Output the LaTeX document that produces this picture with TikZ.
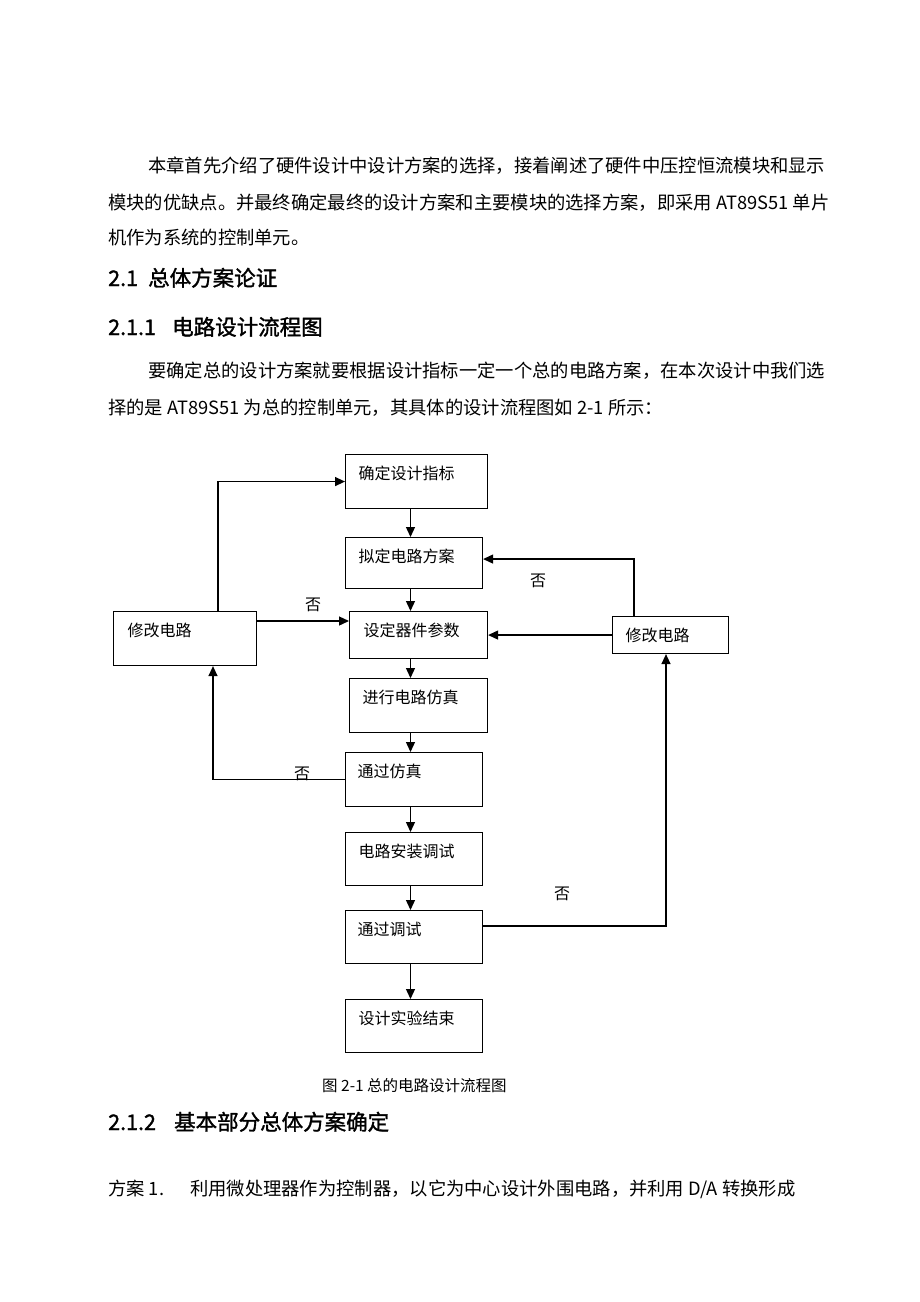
\documentclass[tikz,border=0pt]{standalone}
\usepackage{fontspec}
\setmainfont{Noto Sans CJK SC}
\newfontfamily\hei[FakeBold=1.5]{Noto Sans CJK SC}
\usetikzlibrary{arrows.meta}
\newcommand\flowbox[7]{%
  \pgfmathsetmacro\fbw{#4-#2}\pgfmathsetmacro\fbh{#5-#3}\pgfmathsetmacro\fbs{#6-#2}%
  \pgfmathsetmacro\fbt{\fbw-2*\fbs}\pgfmathsetmacro\fbd{\fbh-25}%
  \node[box, inner xsep=\fbs pt, text width=\fbt pt, text height=25pt, text depth=\fbd pt,
        minimum width=\fbw pt, minimum height=\fbh pt] (#1) at (#2,#3) {#7};}
\begin{document}
\begin{tikzpicture}[x=1pt,y=-1pt,
  box/.style={draw=black, line width=1.1pt, anchor=north west, inner ysep=0pt, align=left,
              font=\fontsize{16}{16}\selectfont},
  arr/.style={line width=1.3pt, -{Triangle[length=10pt,width=9pt]}},
  no/.style={anchor=base, inner sep=0pt, font=\fontsize{16}{16}\selectfont},
  body/.style={anchor=base west, inner sep=0pt, font=\fontsize{18.3}{18.3}\selectfont},
  head/.style={anchor=base west, inner sep=0pt, font=\hei\fontsize{21.5}{21.5}\selectfont}]
\fill[white] (0,0) rectangle (920,1302);
\useasboundingbox (0,0) rectangle (920,1302);

% body text
\node[body] (p1) at (148,172) {本章首先介绍了硬件设计中设计方案的选择，接着阐述了硬件中压控恒流模块和显示};
\node[body] (p2) at (108,209) {模块的优缺点。并最终确定最终的设计方案和主要模块的选择方案，即采用 AT89S51 单片};
\node[body] (p3) at (108,244) {机作为系统的控制单元。};
\node[head] (h1) at (108,286) {\makebox[40pt][l]{2.1}总体方案论证};
\node[head] (h2) at (108,335) {\makebox[64pt][l]{2.1.1}电路设计流程图};
\node[body] (p4) at (148,377) {要确定总的设计方案就要根据设计指标一定一个总的电路方案，在本次设计中我们选};
\node[body] (p5) at (108,414) {择的是 AT89S51 为总的控制单元，其具体的设计流程图如 2-1 所示：};

% flowchart boxes
\flowbox{B1}{345}{454}{487}{508}{358}{确定设计指标}
\flowbox{B2}{345}{537}{482}{588}{358}{拟定电路方案}
\flowbox{B3}{349}{611}{487}{658}{363}{设定器件参数}
\flowbox{L}{113}{611}{256}{665}{127}{修改电路}
\flowbox{R}{612}{616}{728}{653}{625}{修改电路}
\flowbox{B6}{349}{678}{487}{732}{362}{进行电路仿真}
\flowbox{B7}{345}{752}{482}{806}{357}{通过仿真}
\flowbox{B8}{345}{832}{482}{885}{358}{电路安装调试}
\flowbox{B9}{345}{910}{482}{963}{357}{通过调试}
\flowbox{B10}{345}{999}{482}{1052}{358}{设计实验结束}

% helper coordinates
\coordinate (lx) at (218,0);
\coordinate (lx2) at (213,0);
\coordinate (rx) at (634,0);
\coordinate (rx2) at (666,0);
\coordinate (ax) at (410.5,0);
\coordinate (l1) at ([yshift=-10pt]L.north east);
\coordinate (b2e) at ([yshift=4pt]B2.east);
\coordinate (b9) at ([yshift=-16pt]B9.north east);

% connectors
\draw[arr] (B1.south -| ax) -- (B2.north -| ax);
\draw[arr] (B2.south -| ax) -- (B3.north -| ax);
\draw[arr] (B3.south -| ax) -- (B6.north -| ax);
\draw[arr] (B6.south -| ax) -- (B7.north -| ax);
\draw[arr] (B7.south -| ax) -- (B8.north -| ax);
\draw[arr] (B8.south -| ax) -- (B9.north -| ax);
\draw[arr] (B9.south -| ax) -- (B10.north -| ax);
\draw[arr] (L.north -| lx) |- (B1.west);
\draw[arr] (l1) -- (l1 -| B3.west);
\draw[arr] (R.north -| rx) |- (b2e);
\draw[arr] (R.west) -- (R.west -| B3.east);
\draw[arr] (B7.west) -| (L.south -| lx2);
\draw[arr] (b9) -| (R.south -| rx2);

% labels
\node[no] (n1) at (313,610) {否};
\node[no] (n2) at (538,586) {否};
\node[no] (n3) at (302,779) {否};
\node[no] (n4) at (562,899) {否};

% caption and following text
\node[anchor=base west, inner sep=0pt, font=\fontsize{15.5}{15.5}\selectfont] (cap) at (322,1091) {图 2-1 总的电路设计流程图};
\node[head] (h3) at (108,1130) {\makebox[66pt][l]{2.1.2}基本部分总体方案确定};
\node[body] (p6) at (108,1195) {方案 1.\hspace{26pt}利用微处理器作为控制器，以它为中心设计外围电路，并利用 D/A 转换形成};
\end{tikzpicture}
\end{document}
